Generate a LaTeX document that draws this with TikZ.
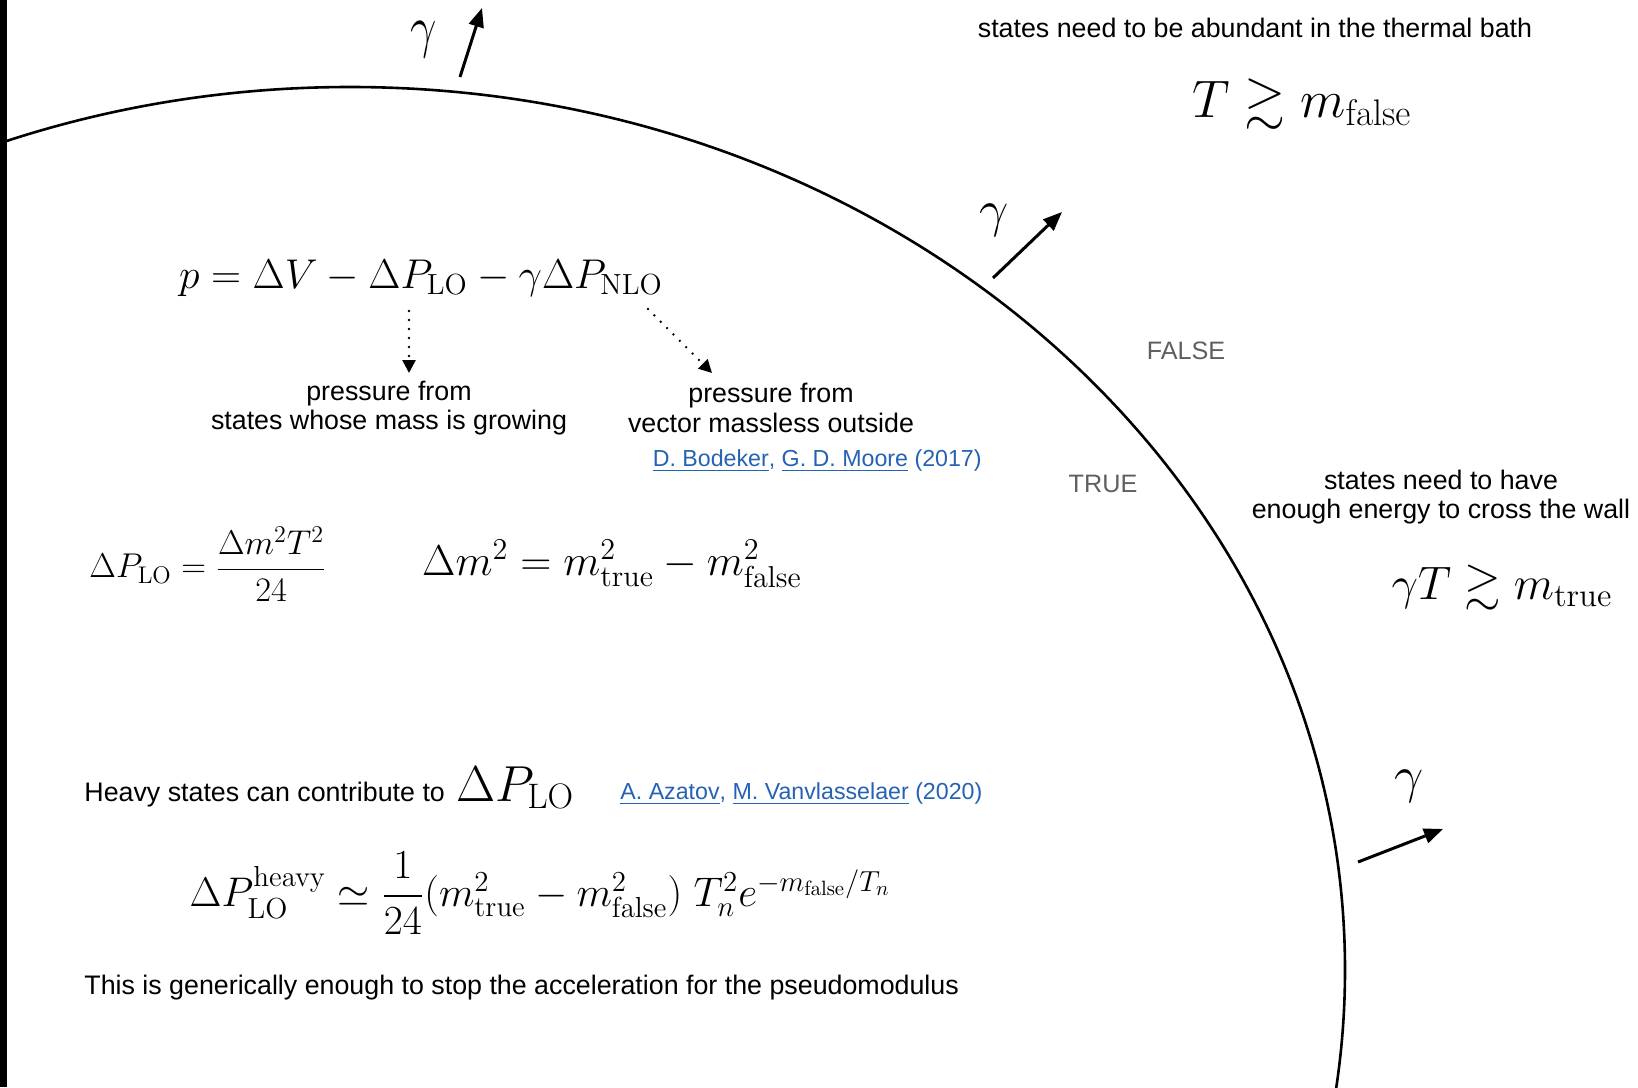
\RequirePackage{fix-cm}
\documentclass[tikz,border=0pt]{standalone}
\usepackage{amsmath,amssymb}
\DeclareFontFamily{U}{msa}{}
\DeclareFontShape{U}{msa}{m}{n}{<-6>msam5<6-8>msam7<8->msam10}{}
\usepackage[no-math]{fontspec}
\setmainfont{Liberation Sans}
\usetikzlibrary{arrows.meta}
\definecolor{refblue}{RGB}{38,98,180}
\definecolor{phasegray}{RGB}{95,95,95}

\begin{document}
\begin{tikzpicture}[x=0.5pt, y=-0.5pt, >={Triangle[length=9.5pt,width=7.5pt]},
  txt/.style={font=\fontsize{13.4}{14.6}\selectfont, align=center, inner sep=0pt},
  ref/.style={font=\fontsize{11.6}{13}\selectfont, text=refblue, inner sep=0pt},
  phase/.style={font=\fontsize{12.6}{14}\selectfont, text=phasegray, inner sep=0pt},
  eq/.style={font=\fontsize{20.8}{25}\selectfont, inner sep=0pt},
  gam/.style={font=\fontsize{26}{30}\selectfont, inner sep=0pt},
  wall/.style={line width=1.3pt},
  kick/.style={line width=1.5pt, ->},
  hint/.style={line width=1.3pt, line cap=round, dash pattern=on 0pt off 4.5pt,
    -{Triangle[length=6.5pt,width=6.5pt]}}]

  \useasboundingbox (0,0) rectangle (1638,1087);
  \fill[white] (0,0) rectangle (1638,1087);

  % the wall
  \begin{scope}
    \clip (0,0) rectangle (1638,1087);
    \draw[wall] (350,970) ellipse [x radius=995, y radius=883];
  \end{scope}
  \fill[black] (0,0) rectangle (7,1087);

  % gamma kicks
  \coordinate (k1) at (460,77);
  \coordinate (k1e) at (482,8);
  \coordinate (k2) at (993,278);
  \coordinate (k2e) at (1062,212);
  \coordinate (k3) at (1358,862);
  \coordinate (k3e) at (1443,829);
  \draw[kick] (k1) -- (k1e);
  \draw[kick] (k2) -- (k2e);
  \draw[kick] (k3) -- (k3e);
  \node[gam] (g1) at (424,40) {\scalebox{0.9}[1.12]{$\gamma$}};
  \node[gam] (g2) at (994,220) {$\gamma$};
  \node[gam] (g3) at (1409,786) {$\gamma$};

  \node[phase] (false) at (1186,351) {FALSE};
  \node[phase] (true) at (1103,484) {TRUE};

  \node[txt] (bath) at (1255,28) {states need to be abundant in the thermal bath};
  \node[font=\fontsize{26.4}{30}\selectfont, inner sep=0pt] (Tf) at (1302,104)
    {$T \gtrsim m_{\rm false}$};
  \node[txt] (cross) at (1441,497) {states need to have\\enough energy to cross the wall};
  \node[font=\fontsize{23.5}{28}\selectfont, inner sep=0pt] (gTt) at (1502,588)
    {$\gamma T \gtrsim m_{\rm true}$};

  % pressure
  \node[eq] (p) at (421,278)
    {$p = \Delta V - \Delta P_{\rm LO} - \gamma \Delta P_{\rm NLO}$};
  \coordinate (d1) at (409,311);
  \coordinate (d1e) at (409,373);
  \coordinate (d2) at (648,309);
  \coordinate (d2e) at (712,373);
  \draw[hint] (d1) -- (d1e);
  \draw[hint] (d2) -- (d2e);
  \node[txt] (lo) at (389,408) {pressure from\\states whose mass is growing};
  \node[txt] (nlo) at (771,408) {pressure from\\vector massless outside};
  \node[ref, anchor=east] (bm) at (982,461)
    {\underline{D. Bodeker}, \underline{G. D. Moore} (2017)};

  \node[font=\fontsize{17.2}{20}\selectfont, inner sep=0pt] (plo) at (208,564)
    {$\Delta P_{\rm LO} = \dfrac{\Delta m^2 T^2}{24}$};
  \node[font=\fontsize{21.6}{26}\selectfont, inner sep=0pt] (dm) at (612,564)
    {$\Delta m^2 = m_{\rm true}^2 - m_{\rm false}^2$};

  % heavy states
  \node[txt, anchor=base west] (heavy) at (84,801)
    {Heavy states can contribute to\hspace{2pt} {\fontsize{25.3}{28}\selectfont$\Delta P_{\rm LO}$}};
  \node[ref, anchor=west] (av) at (620,794)
    {\underline{A. Azatov}, \underline{M. Vanvlasselaer} (2020)};
  \node[font=\fontsize{20.7}{25}\selectfont, inner sep=0pt] (ph) at (540,893)
    {$\Delta P_{\rm LO}^{\rm heavy} \simeq \dfrac{1}{24}(m_{\rm true}^2 - m_{\rm false}^2)\
      T_n^2 e^{-m_{\rm false}/T_n}$};
  \node[txt, anchor=west] (stop) at (84,988)
    {This is generically enough to stop the acceleration for the pseudomodulus};
\end{tikzpicture}
\end{document}
